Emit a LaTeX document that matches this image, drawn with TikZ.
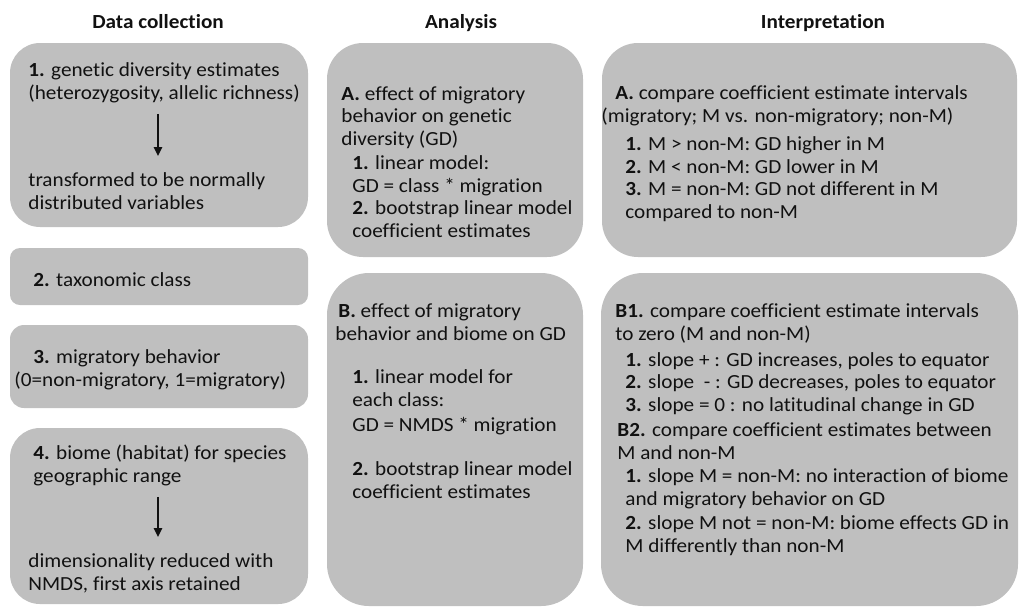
\documentclass[tikz,border=0pt]{standalone}
\usepackage{fontspec}
\setmainfont{Carlito}[FakeStretch=1.06, Ligatures=NoCommon]
\usetikzlibrary{arrows.meta}
\definecolor{panelgray}{HTML}{BFBFBF}
\definecolor{ink}{HTML}{111111}
\tikzset{
  panel/.style = {fill=panelgray},
  txt/.style = {anchor=base west, inner sep=0pt, align=left, text=ink,
    font=\fontsize{10}{11.25}\selectfont},
  head/.style = {anchor=base, inner sep=0pt, text=ink,
    font=\fontsize{10}{11.25}\selectfont\bfseries},
  flow/.style = {-{Triangle[length=4.5pt,width=4pt]}, line width=1.2pt, draw=ink},
}
\begin{document}
\begin{tikzpicture}[x=0.5pt, y=-0.5pt]%
    \useasboundingbox (0,0) rectangle (1020,606);
    % column heads
    \node[head] (hdc) at (158,28) {Data collection};
    \node[head] (han) at (461,28) {Analysis};
    \node[head] (hin) at (823,28) {Interpretation};
    % panels
    \fill[panel, rounded corners=15pt] (10,43) rectangle (308,227);
    \fill[panel, rounded corners=5pt] (10,248) rectangle (308,305);
    \fill[panel, rounded corners=7pt] (10,325) rectangle (308,408);
    \fill[panel, rounded corners=15pt] (10,428) rectangle (308,604);
    \fill[panel, rounded corners=18pt] (327,43) rectangle (583,257);
    \fill[panel, rounded corners=21pt] (327,273) rectangle (583,606);
    \fill[panel, rounded corners=18pt] (602,43) rectangle (1017,257);
    \fill[panel, rounded corners=21pt] (601,273) rectangle (1018,606);
    % data collection (base = last line)
    \node[txt] (gd) at (28,99) {\textbf{1.} genetic diversity estimates\\(heterozygosity, allelic richness)};
    \node[txt] (gdt) at (28,209) {transformed to be normally\\distributed variables};
    \draw[flow] (gd.south -| hdc.south) ++(0,11) coordinate (gda) -- (gda |- gdt.north) [shorten >=8pt];
    \node[txt] (tax) at (33,286) {\textbf{2.} taxonomic class};
    \node[txt] (mig) at (33,386) {\textbf{3.} migratory behavior\\\hspace*{-9.5pt}(0=non-migratory, 1=migratory)};
    \node[txt] (bio) at (33,482) {\textbf{4.} biome (habitat) for species\\geographic range};
    \node[txt] (biot) at (28,590) {dimensionality reduced with\\NMDS, first axis retained};
    \draw[flow] (bio.south -| hdc.south) ++(0,11) coordinate (bioa) -- (bioa |- biot.north) [shorten >=8pt];
    % analysis
    \node[txt] (anA) at (341,145) {\textbf{A.} effect of migratory\\behavior on genetic\\diversity (GD)};
    \node[txt] (anAs) at (352,237) {\textbf{1.} linear model:\\GD = class * migration\\\textbf{2.} bootstrap linear model\\coefficient estimates};
    \node[txt] (anB) at (338,340) {\textbf{B.} effect of migratory\\\hspace*{-1.5pt}behavior and biome on GD};
    \node[txt] (anBa) at (352,431) {\textbf{1.} linear model for\\each class:\\[1.25pt]GD = NMDS * migration};
    \node[txt] (anBb) at (352,498) {\textbf{2.} bootstrap linear model\\coefficient estimates};
    % interpretation
    \node[txt] (inA) at (615,122) {\textbf{A.} compare coefficient estimate intervals\\\hspace*{-7pt}(migratory; M vs. non-migratory; non-M)};
    \node[txt] (inAs) at (625,218) {\textbf{1.} M > non-M: GD higher in M\\\textbf{2.} M < non-M: GD lower in M\\\textbf{3.} M = non-M: GD not different in M\\compared to non-M};
    \node[txt] (inB) at (615,340) {\textbf{B1.} compare coefficient estimate intervals\\to zero (M and non-M)};
    \node[txt] (inBa) at (625,411) {\textbf{1.} slope + : GD increases, poles to equator\\\textbf{2.} slope~~- : GD decreases, poles to equator\\\textbf{3.} slope = 0 : no latitudinal change in GD};
    \node[txt] (inC) at (617,459) {\textbf{B2.} compare coefficient estimates between\\M and non-M};
    \node[txt] (inCa) at (625,552) {\textbf{1.} slope M = non-M: no interaction of biome\\and migratory behavior on GD\\[1pt]\textbf{2.} slope M not = non-M: biome effects GD in\\M differently than non-M};
\end{tikzpicture}
\end{document}
